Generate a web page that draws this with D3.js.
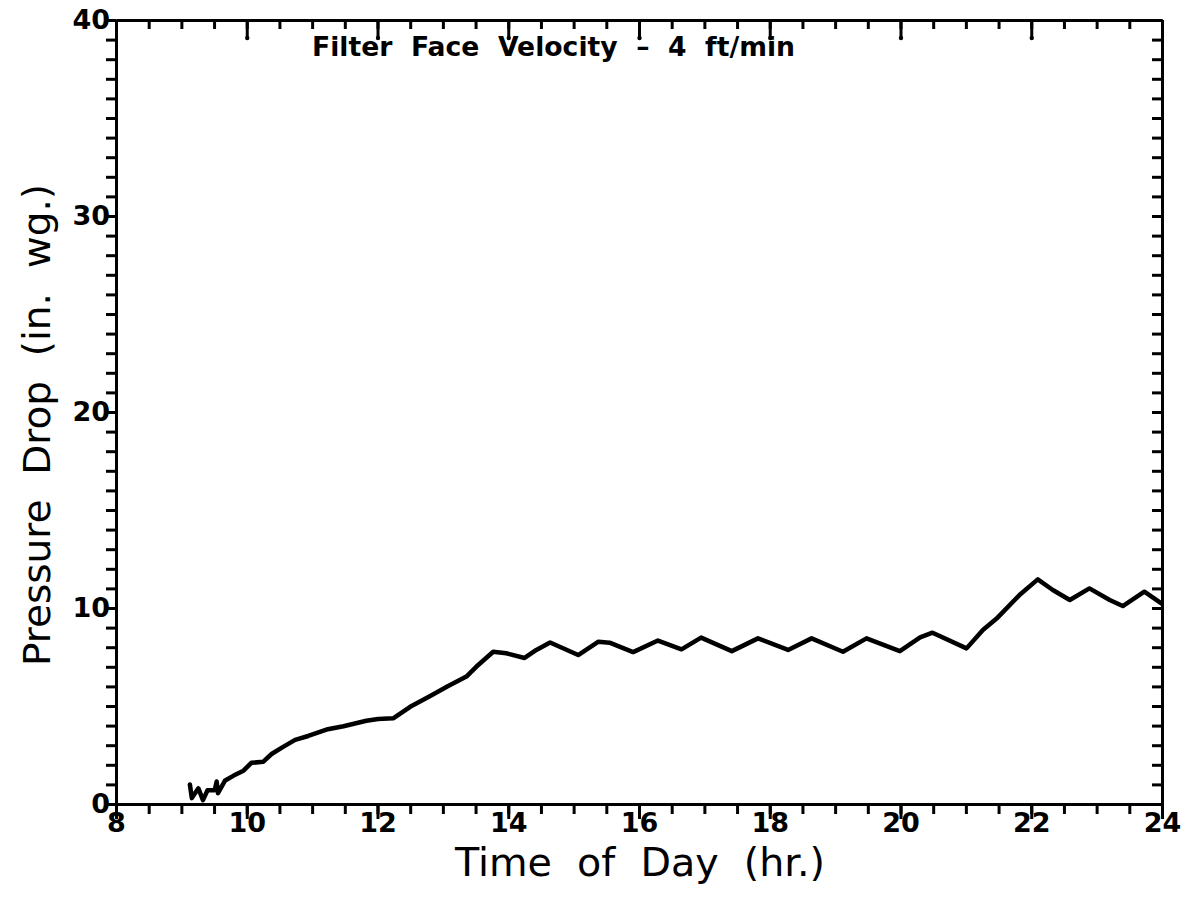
<!DOCTYPE html>
<html>
<head>
<meta charset="utf-8">
<script src="https://cdn.jsdelivr.net/npm/d3@7"></script>
<style>
  html, body { margin: 0; padding: 0; background: #fff; }
  svg { display: block; }
  text { font-family: "DejaVu Sans", Arial, sans-serif; fill: #000; }
</style>
</head>
<body>
<svg id="chart" width="1188" height="899"></svg>
<script>
// ---- data ----
const timeHr = [9.13, 9.16, 9.26, 9.33, 9.40, 9.51, 9.54, 9.56, 9.67, 9.80, 9.95, 10.07, 10.25, 10.38, 10.55, 10.74, 10.94, 11.22, 11.48, 11.83, 12.01, 12.24, 12.50, 12.80, 13.06, 13.36, 13.51, 13.77, 13.97, 14.25, 14.43, 14.64, 15.07, 15.38, 15.55, 15.91, 16.29, 16.65, 16.95, 17.42, 17.82, 18.28, 18.64, 19.12, 19.48, 19.99, 20.30, 20.49, 21.01, 21.26, 21.47, 21.82, 22.10, 22.33, 22.59, 22.89, 23.20, 23.40, 23.73, 23.99];
const pressure = [1.0, 0.3, 0.8, 0.2, 0.7, 0.7, 1.15, 0.55, 1.2, 1.45, 1.7, 2.1, 2.15, 2.55, 2.9, 3.27, 3.47, 3.8, 3.97, 4.25, 4.34, 4.37, 4.96, 5.5, 5.98, 6.5, 7.0, 7.77, 7.69, 7.45, 7.86, 8.24, 7.6, 8.28, 8.23, 7.75, 8.34, 7.89, 8.49, 7.8, 8.45, 7.86, 8.45, 7.77, 8.45, 7.8, 8.5, 8.74, 7.94, 8.88, 9.46, 10.66, 11.46, 10.92, 10.41, 11.0, 10.41, 10.1, 10.83, 10.24];
const xMajorTicks = [8, 10, 12, 14, 16, 18, 20, 22, 24];
const yMajorTicks = [0, 10, 20, 30, 40];
const xTitle = "Time  of  Day  (hr.)";
const yTitle = "Pressure  Drop  (in.  wg.)";
const annotation = "Filter  Face  Velocity  \u2013  4  ft/min";

// ---- layout ----
const plotL = 116, plotR = 1162, plotT = 20, plotB = 804;
const svg = d3.select("#chart");
const x = d3.scaleLinear().domain([8, 24]).range([plotL, plotR]);
const y = d3.scaleLinear().domain([0, 40]).range([plotB, plotT]);

const xMinor = d3.range(8, 24.001, 0.5);
const yMinor = d3.range(0, 40.001, 1);

function styleAxis(g) {
  g.select(".domain").attr("stroke", "#000").attr("stroke-width", 3);
  g.selectAll(".tick line").attr("stroke", "#000").attr("stroke-width", 3);
}
const fontFam = "'DejaVu Sans', Arial, sans-serif";

// bottom axis: minor and major ticks outward
svg.append("g").attr("transform", `translate(0,${plotB})`)
  .call(d3.axisBottom(x).tickValues(xMinor).tickSize(10).tickSizeOuter(0).tickFormat(""))
  .call(styleAxis);
svg.append("g").attr("transform", `translate(0,${plotB})`)
  .call(d3.axisBottom(x).tickValues(xMajorTicks).tickSize(15).tickSizeOuter(0).tickFormat(""))
  .call(styleAxis);
svg.append("g").attr("transform", `translate(0,${plotB})`)
  .call(d3.axisBottom(x).tickValues(xMajorTicks).tickSize(0).tickPadding(9).tickFormat(d3.format("d")))
  .call(g => g.select(".domain").remove())
  .call(g => g.selectAll("text").attr("font-size", 27).attr("font-weight", "bold").style("font-family", fontFam));

// top axis: ticks inward
svg.append("g").attr("transform", `translate(0,${plotT})`)
  .call(d3.axisTop(x).tickValues(xMinor).tickSize(-9).tickSizeOuter(0).tickFormat(""))
  .call(styleAxis);
svg.append("g").attr("transform", `translate(0,${plotT})`)
  .call(d3.axisTop(x).tickValues(xMajorTicks.slice(1, -1)).tickSize(-17).tickSizeOuter(0).tickFormat(""))
  .call(styleAxis)
  .call(g => g.selectAll(".tick").append("circle").attr("cy", 18).attr("r", 2.2).attr("fill", "#000"));

// left axis: ticks outward
svg.append("g").attr("transform", `translate(${plotL},0)`)
  .call(d3.axisLeft(y).tickValues(yMinor).tickSize(10).tickSizeOuter(0).tickFormat(""))
  .call(styleAxis);
svg.append("g").attr("transform", `translate(${plotL},0)`)
  .call(d3.axisLeft(y).tickValues(yMajorTicks).tickSize(0).tickPadding(6).tickFormat(d3.format("d")))
  .call(g => g.select(".domain").remove())
  .call(g => g.selectAll("text").attr("font-size", 27).attr("font-weight", "bold").style("font-family", fontFam));

// right axis: ticks inward
svg.append("g").attr("transform", `translate(${plotR},0)`)
  .call(d3.axisRight(y).tickValues(yMinor).tickSize(-10).tickSizeOuter(0).tickFormat(""))
  .call(styleAxis);

// series line
const line = d3.line().x((d, i) => x(timeHr[i])).y((d, i) => y(pressure[i]));
svg.append("path")
  .datum(pressure)
  .attr("d", line)
  .attr("fill", "none")
  .attr("stroke", "#000")
  .attr("stroke-width", 4.5)
  .attr("stroke-linejoin", "round")
  .attr("stroke-linecap", "round");

// annotation
svg.append("text")
  .attr("x", 312).attr("y", 56)
  .attr("font-size", 27).attr("font-weight", "bold")
  .attr("textLength", 483).attr("lengthAdjust", "spacingAndGlyphs")
  .style("white-space", "pre")
  .text(annotation);

// axis titles
svg.append("text")
  .attr("x", 640).attr("y", 876)
  .attr("text-anchor", "middle")
  .attr("font-size", 39)
  .attr("textLength", 370).attr("lengthAdjust", "spacingAndGlyphs")
  .style("white-space", "pre")
  .text(xTitle);

svg.append("text")
  .attr("transform", "translate(50,425) rotate(-90)")
  .attr("text-anchor", "middle")
  .attr("font-size", 37)
  .attr("textLength", 482).attr("lengthAdjust", "spacingAndGlyphs")
  .style("white-space", "pre")
  .text(yTitle);
</script>
</body>
</html>
